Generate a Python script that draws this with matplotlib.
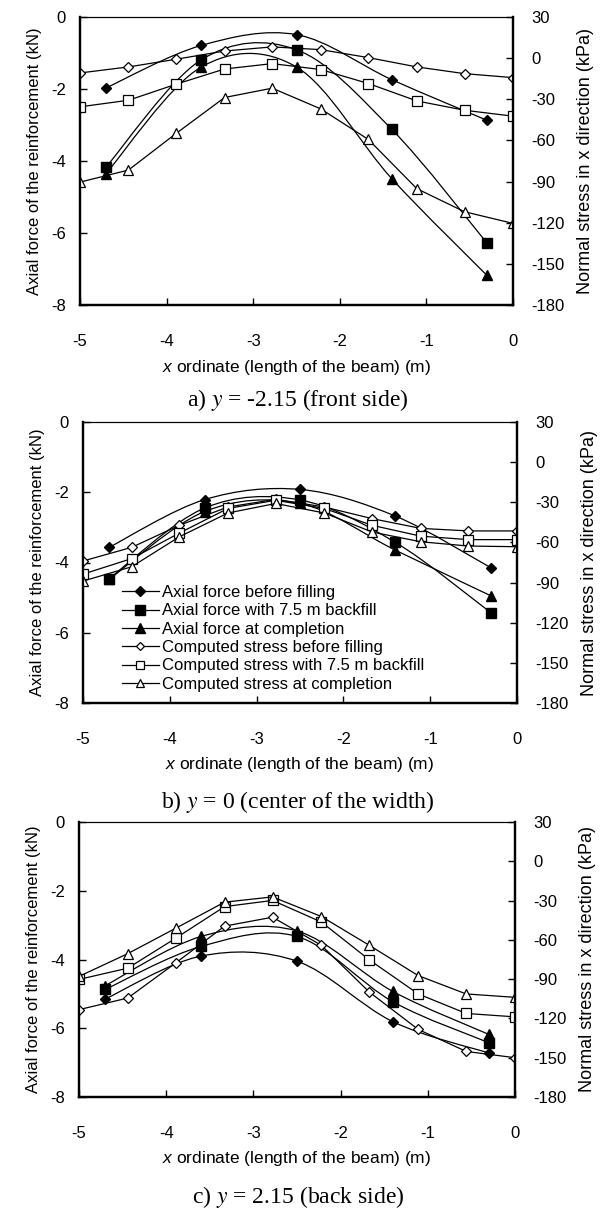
import numpy as np
import matplotlib
matplotlib.use("Agg")
import matplotlib.pyplot as plt
from matplotlib.path import Path
from matplotlib.patches import PathPatch
from matplotlib.lines import Line2D

plt.rcParams['font.family'] = ['Liberation Sans', 'DejaVu Sans']
plt.rcParams['font.size'] = 12
plt.rcParams['axes.unicode_minus'] = False
plt.rcParams['mathtext.fontset'] = 'custom'
plt.rcParams['mathtext.it'] = 'Liberation Sans:italic'
plt.rcParams['mathtext.rm'] = 'Liberation Sans'

# measured axial force positions (m) and computed stress positions (m)
x_force = [-4.7, -3.6, -2.5, -1.4, -0.3]
x_stress = [-5.0, -4.44, -3.89, -3.33, -2.78, -2.22, -1.67, -1.11, -0.56, 0.0]

# a) y = -2.15 (front side)
a_force_before = [-1.97, -0.79, -0.49, -1.74, -2.87]
a_force_backfill = [-4.17, -1.19, -0.91, -3.12, -6.28]
a_force_complete = [-4.35, -1.39, -1.39, -4.49, -7.18]
a_stress_before = [-10.8, -6.4, -0.8, 5.2, 8.2, 6.2, 0.4, -6.4, -11.3, -14.2]
a_stress_backfill = [-35.5, -30.7, -19.0, -7.9, -4.0, -8.3, -18.5, -31.2, -38.0, -42.3]
a_stress_complete = [-90.4, -81.6, -54.9, -28.7, -21.9, -37.0, -59.3, -95.2, -112.0, -120.5]

# b) y = 0 (center of the width)
b_force_before = [-3.57, -2.21, -1.92, -2.68, -4.15]
b_force_backfill = [-4.46, -2.45, -2.22, -3.43, -5.43]
b_force_complete = [-4.48, -2.55, -2.32, -3.65, -4.95]
b_stress_before = [-73.9, -63.7, -47.2, -33.5, -27.8, -33.5, -42.2, -49.5, -51.4, -51.4]
b_stress_backfill = [-83.7, -72.1, -53.0, -34.6, -28.5, -34.6, -47.2, -55.3, -57.9, -57.9]
b_stress_complete = [-88.9, -78.2, -55.8, -38.0, -30.9, -38.0, -52.2, -59.5, -62.7, -63.2]

# c) y = 2.15 (back side)
c_force_before = [-5.15, -3.90, -4.05, -5.81, -6.72]
c_force_backfill = [-4.87, -3.62, -3.33, -5.23, -6.42]
c_force_complete = [-4.76, -3.33, -3.17, -4.93, -6.18]
c_stress_before = [-113.3, -104.4, -77.6, -49.5, -42.7, -64.2, -99.9, -128.4, -145.2, -150.0]
c_stress_backfill = [-90.2, -81.6, -58.7, -34.6, -29.9, -46.4, -75.3, -101.3, -116.2, -118.8]
c_stress_complete = [-87.9, -70.5, -51.1, -31.2, -27.2, -42.2, -64.2, -87.3, -101.3, -103.9]

labels = ["Axial force before filling", "Axial force with 7.5 m backfill",
          "Axial force at completion", "Computed stress before filling",
          "Computed stress with 7.5 m backfill", "Computed stress at completion"]
captions = [r"a) $y$ = -2.15 (front side)", r"b) $y$ = 0 (center of the width)",
            r"c) $y$ = 2.15 (back side)"]


def smooth_path(xs, ys):
    # Excel-like smoothed line: cubic Bezier through the data points
    p = np.column_stack([xs, ys]).astype(float)
    ext = np.vstack([p[0], p, p[-1]])
    verts = [p[0]]
    codes = [Path.MOVETO]
    for i in range(len(p) - 1):
        c1 = ext[i + 1] + (ext[i + 2] - ext[i]) / 6.0
        c2 = ext[i + 2] - (ext[i + 3] - ext[i + 1]) / 6.0
        verts += [c1, c2, p[i + 1]]
        codes += [Path.CURVE4] * 3
    return Path(verts, codes)


force_marks = [dict(marker="D", ms=5), dict(marker="s", ms=6.5), dict(marker="^", ms=6.5)]
stress_marks = [dict(marker="D", ms=5.5), dict(marker="s", ms=7.5), dict(marker="^", ms=7)]

panels = [
    ([a_force_before, a_force_backfill, a_force_complete],
     [a_stress_before, a_stress_backfill, a_stress_complete]),
    ([b_force_before, b_force_backfill, b_force_complete],
     [b_stress_before, b_stress_backfill, b_stress_complete]),
    ([c_force_before, c_force_backfill, c_force_complete],
     [c_stress_before, c_stress_backfill, c_stress_complete]),
]

# axes boxes in pixels: left, right, top, bottom
boxes = [(80, 513, 17, 305), (83, 517, 422, 703), (79, 515, 822, 1097)]
W, H = 605, 1212

fig = plt.figure(figsize=(6.05, 12.12), dpi=100)

for k, (forces, stresses) in enumerate(panels):
    l, r, t, b = boxes[k]
    ax = fig.add_axes([l / W, 1 - b / H, (r - l) / W, (b - t) / H])
    ax2 = ax.twinx()

    handles = []
    for f, m in zip(forces, force_marks):
        ax.add_patch(PathPatch(smooth_path(x_force, f), fill=False, lw=0.9, ec="black"))
        ax.plot(x_force, f, ls="none", color="black", mfc="black", mec="black", **m)
        handles.append(Line2D([], [], color="black", lw=0.9, mfc="black", mec="black", **m))
    for s, m in zip(stresses, stress_marks):
        ax2.plot(x_stress, s, color="black", lw=0.9, mfc="white", mec="black", mew=0.9, **m)
        handles.append(Line2D([], [], color="black", lw=0.9, mfc="white", mec="black", mew=0.9,
                              marker=m["marker"], ms=m["ms"] - 1.5))

    ax.set_xlim(-5, 0)
    ax.set_ylim(-8, 0)
    ax2.set_ylim(-180, 30)
    ax.set_xticks(np.arange(-5, 0.5, 1))
    ax.set_yticks(np.arange(-8, 0.5, 2))
    ax2.set_yticks(np.arange(-180, 31, 30))
    ax.tick_params(axis="x", direction="in", length=5, width=1, pad=21, labelsize=12)
    ax.tick_params(axis="y", direction="in", length=5, width=1, pad=10, labelsize=12)
    ax2.tick_params(axis="y", direction="in", length=5, width=1, pad=13, labelsize=12)
    for sp in ["left", "right", "bottom"]:
        ax.spines[sp].set_linewidth(1.6)
        ax2.spines[sp].set_linewidth(1.6)
    ax.spines["top"].set_linewidth(0.8)
    ax2.spines["top"].set_linewidth(0.8)

    ax.set_xlabel(r"$x$ ordinate (length of the beam) (m)", fontsize=12.5, labelpad=6)
    ax.set_ylabel("Axial force of the reinforcement (kN)", fontsize=12, labelpad=7)
    ax2.set_ylabel("Normal stress in x direction (kPa)", fontsize=13, labelpad=9)

    if k == 1:
        ax2.legend(handles, labels, loc="upper left", frameon=False, fontsize=12,
                   bbox_to_anchor=(122 / W, 1 - 585 / H), bbox_transform=fig.transFigure,
                   borderpad=0, borderaxespad=0, handlelength=2.2, handletextpad=0.2,
                   labelspacing=0.2)

cap_y = [400, 802, 1197]
for k, cy in enumerate(cap_y):
    fig.text(298 / W, 1 - cy / H, captions[k], ha="center", va="center", fontsize=17,
             family="Liberation Serif", math_fontfamily="stix")

fig.savefig("out.png", dpi=100)
